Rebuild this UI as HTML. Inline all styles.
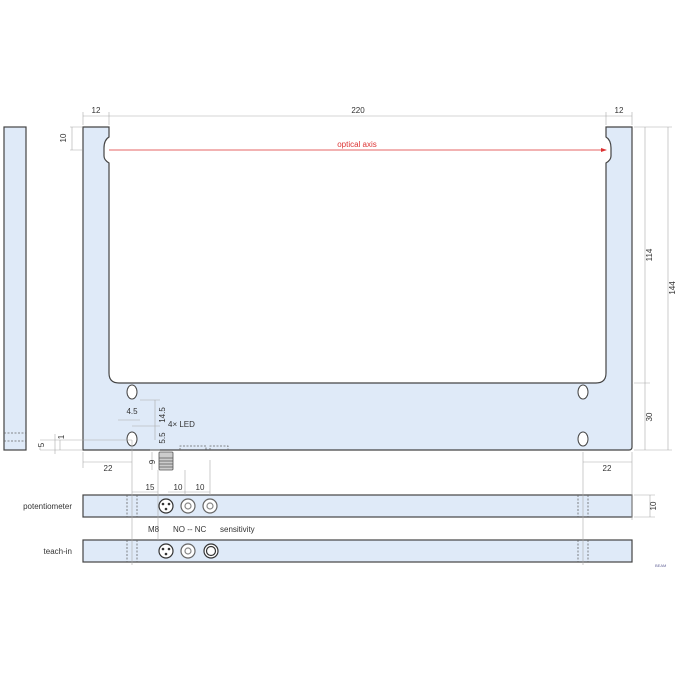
<!DOCTYPE html>
<html><head><style>body{margin:0;background:#fff}svg{display:block}text{font-family:"Liberation Sans",sans-serif;font-size:8px;fill:#333}</style></head><body>
<svg width="675" height="675" viewBox="0 0 675 675">
<g stroke="#444" stroke-width="1.2" fill="#dfeaf8">
<rect x="4" y="127" width="22" height="323"/>
<path d="M83,127H109V137Q104,140 104,148V156Q104,160 109,163V373Q109,383 119,383H596Q606,383 606,373V163Q611,160 611,156V148Q611,140 606,137V127H632V447Q632,450 629,450H83Z"/>
<rect x="83" y="495" width="549" height="22"/>
<rect x="83" y="540" width="549" height="22"/>
</g>
<g fill="#fff" stroke="#444" stroke-width="1">
<ellipse cx="132" cy="392" rx="5" ry="7"/><ellipse cx="132" cy="439" rx="5" ry="7"/>
<ellipse cx="583" cy="392" rx="5" ry="7"/><ellipse cx="583" cy="439" rx="5" ry="7"/>
</g>
<g stroke="#666" stroke-width="0.8" stroke-dasharray="2,1.5" fill="none">
<path d="M4,433H26M4,441H26M127,495V517M137,495V517M127,540V562M137,540V562M578,495V517M588,495V517M578,540V562M588,540V562M180,450V446H206V450M210,450V446H228V450"/>
</g>
<line x1="109" y1="150" x2="606" y2="150" stroke="#d33" stroke-width="0.8"/>
<path d="M601,148L607,150L601,152z" fill="#d33"/>
<text x="357" y="147" style="fill:#d33" text-anchor="middle">optical axis</text>
<g stroke="#aaa" stroke-width="0.6" fill="none">
<path d="M83,112V125M109,112V125M606,112V125M632,112V125M83,116H109M109,116H606M606,116H632"/>
<path d="M70,127H82M70,150H82M72,127V150"/>
<path d="M634,127H672M634,383H650M634,450H672M645,127V383M645,383V450M668,127V450"/>
<path d="M83,452V468M132,440V565M128,462H132M83,462H128M583,452V565M632,452V520M583,462H632"/>
<path d="M132,426H160M140,400H160M155,400V440M125,420H140M118,420H126"/>
<path d="M40,440H132M40,450H83M150,450H160M40,447V450M55,434V454M60,440V450"/>
<path d="M152,452V470M132,492H158M158,470V540M168,492H188M188,492H210M185,470V495M210,460V495"/>
<path d="M634,495H655M634,517H655M650,495V517"/>
</g>
<rect x="159" y="452" width="14" height="18" rx="1" fill="#ccc" stroke="#555" stroke-width="0.8"/>
<g stroke="#555" stroke-width="0.8"><path d="M159,458H173M159,461H173M159,464H173M159,467H173"/></g>
<g stroke="#333" fill="#fff" stroke-width="1.2">
<circle cx="166" cy="506" r="7"/><circle cx="188" cy="506" r="7" stroke="#666"/><circle cx="210" cy="506" r="7" stroke="#666"/>
<circle cx="166" cy="551" r="7"/><circle cx="188" cy="551" r="7" stroke="#666"/><circle cx="211" cy="551" r="7"/><circle cx="211" cy="551" r="4.5"/>
<circle cx="188" cy="506" r="3" stroke="#888"/><circle cx="210" cy="506" r="3" stroke="#888"/><circle cx="188" cy="551" r="3" stroke="#888"/>
</g>
<g fill="#333"><circle cx="163" cy="504" r="1.3"/><circle cx="169" cy="504" r="1.3"/><circle cx="166" cy="509" r="1.3"/><circle cx="163" cy="549" r="1.3"/><circle cx="169" cy="549" r="1.3"/><circle cx="166" cy="554" r="1.3"/></g>
<text x="96" y="113" text-anchor="middle">12</text>
<text x="358" y="113" text-anchor="middle">220</text>
<text x="619" y="113" text-anchor="middle">12</text>
<text transform="translate(66,138) rotate(-90)" text-anchor="middle">10</text>
<text transform="translate(652,255) rotate(-90)" text-anchor="middle">114</text>
<text transform="translate(675,288) rotate(-90)" text-anchor="middle">144</text>
<text transform="translate(652,417) rotate(-90)" text-anchor="middle">30</text>
<text transform="translate(656,506) rotate(-90)" text-anchor="middle">10</text>
<text x="132" y="414" text-anchor="middle">4.5</text>
<text transform="translate(165,415) rotate(-90)" text-anchor="middle">14.5</text>
<text transform="translate(165,438) rotate(-90)" text-anchor="middle">5.5</text>
<text x="168" y="427">4× LED</text>
<text transform="translate(64,437) rotate(-90)" text-anchor="middle">1</text>
<text transform="translate(44,445) rotate(-90)" text-anchor="middle">5</text>
<text transform="translate(155,462) rotate(-90)" text-anchor="middle">9</text>
<text x="108" y="471" text-anchor="middle">22</text>
<text x="607" y="471" text-anchor="middle">22</text>
<text x="150" y="490" text-anchor="middle">15</text>
<text x="178" y="490" text-anchor="middle">10</text>
<text x="200" y="490" text-anchor="middle">10</text>
<text x="72" y="509" text-anchor="end">potentiometer</text>
<text x="72" y="554" text-anchor="end">teach-in</text>
<text x="148" y="532">M8</text>
<text x="173" y="532">NO -- NC</text>
<text x="220" y="532">sensitivity</text>
<text x="655" y="567" style="font-size:4px;fill:#669">BEAM</text>
</svg>
</body></html>
